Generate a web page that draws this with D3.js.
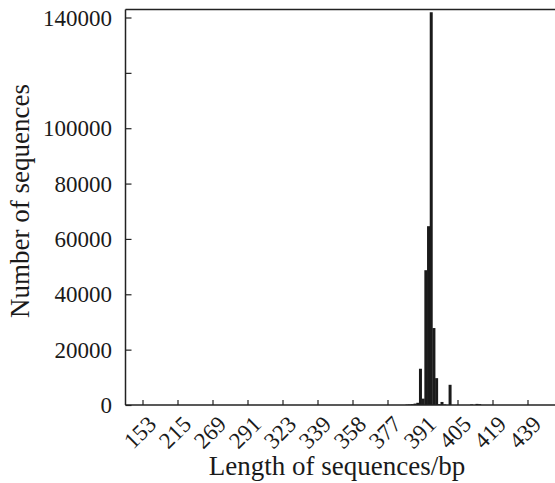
<!DOCTYPE html>
<html>
<head>
<meta charset="utf-8">
<script src="https://cdn.jsdelivr.net/npm/d3@7"></script>
<style>
  body { margin: 0; background: #fff; }
  text { font-family: "Liberation Serif", "DejaVu Serif", serif; fill: #1a1a1a; }
</style>
</head>
<body>
<div id="chart"></div>
<script>
const lengths = [
    101, 118, 126, 134, 141, 147,
    153, 157, 161, 166, 170, 176, 181, 187, 192, 198, 203, 207, 211,
    215, 219, 224, 228, 233, 237, 241, 246, 250, 254, 259, 262, 266,
    269, 271, 272, 274, 276, 277, 279, 281, 283, 284, 286, 288, 289,
    291, 293, 296, 298, 301, 303, 306, 308, 311, 313, 316, 318, 321,
    323, 324, 325, 326, 327, 329, 330, 331, 332, 334, 335, 336, 337,
    339, 340, 341, 343, 344, 345, 346, 348, 349, 351, 353, 355, 356,
    358, 359, 360, 361, 363, 364, 366, 367, 368, 370, 372, 374, 375,
    377, 378, 379, 380, 381, 382, 383, 384, 385, 386, 387, 389, 390,
    391, 392, 393, 394, 395, 396, 397, 398, 399, 400, 401, 402, 404,
    405, 406, 407, 408, 409, 410, 411, 412, 413, 414, 415, 416, 418,
    419, 420, 421, 422, 424, 425, 427, 428, 430, 431, 433, 435, 437,
    439, 441, 443, 446, 448, 451, 455, 460, 468, 475, 490
];

// lengths with a visible count, and their counts
const countLengths = [384, 385, 386, 387, 389, 390, 391, 392, 393, 394, 395, 396, 397, 398, 399, 401, 410, 412, 413];
const countValues  = [150, 200, 300, 500, 800, 13100, 2300, 48700, 64600, 141900, 27800, 9700, 300, 1100, 200, 7300, 200, 400, 300];

const xTickLabels = [153, 215, 269, 291, 323, 339, 358, 377, 391, 405, 419, 439];
const yTicks = [0, 20000, 40000, 60000, 80000, 100000, 120000, 140000];
const yTickLabels = ["0", "20000", "40000", "60000", "80000", "100000", "", "140000"];

const width = 555, height = 483;
const margin = { top: 9.5, left: 125.5, bottom: 405 };

const countOf = new Map(countLengths.map((l, i) => [l, countValues[i]]));
const data = lengths.map(l => ({ len: l, n: countOf.get(l) || 0 }));

const svg = d3.select("#chart").append("svg")
    .attr("width", width)
    .attr("height", height);

const bandW = 35 / 13;
const x = d3.scaleBand()
    .domain(lengths)
    .range([margin.left, margin.left + lengths.length * bandW])
    .padding(0);

const y = d3.scaleLinear()
    .domain([0, 140000])
    .range([margin.bottom, 17.5]);

// bars
svg.append("g").selectAll("rect")
    .data(data.filter(d => d.n > 0))
    .enter().append("rect")
    .attr("x", d => x(d.len))
    .attr("width", x.bandwidth() + 0.3)
    .attr("y", d => y(d.n))
    .attr("height", d => y(0) - y(d.n))
    .style("fill", "#1a1a1a");

// frame: top line
svg.append("line")
    .attr("x1", margin.left).attr("x2", width)
    .attr("y1", margin.top).attr("y2", margin.top)
    .style("stroke", "#222").style("stroke-width", 1.5);

// y axis, ticks inside
const yAxis = svg.append("g")
    .attr("transform", "translate(" + margin.left + ",0)")
    .call(d3.axisRight(y).tickValues(yTicks).tickSize(6).tickFormat(""));
yAxis.select(".domain").remove();
yAxis.selectAll("line").style("stroke", "#222").style("stroke-width", 1.2);
svg.append("line")
    .attr("x1", margin.left).attr("x2", margin.left)
    .attr("y1", margin.top).attr("y2", margin.bottom)
    .style("stroke", "#222").style("stroke-width", 1.5);

svg.append("g").selectAll("text")
    .data(yTicks)
    .enter().append("text")
    .attr("x", 112)
    .attr("y", d => y(d))
    .attr("dy", "0.35em")
    .attr("text-anchor", "end")
    .style("font-size", "23px")
    .text((d, i) => yTickLabels[i]);

// x axis, ticks inside
const xAxis = svg.append("g")
    .attr("transform", "translate(0," + margin.bottom + ")")
    .call(d3.axisTop(x).tickValues(xTickLabels).tickSize(5).tickFormat(""));
xAxis.select(".domain").remove();
xAxis.selectAll("line").style("stroke", "#222").style("stroke-width", 1.2);
svg.append("line")
    .attr("x1", margin.left).attr("x2", width)
    .attr("y1", margin.bottom).attr("y2", margin.bottom)
    .style("stroke", "#222").style("stroke-width", 1.5);

svg.append("g").selectAll("text")
    .data(xTickLabels)
    .enter().append("text")
    .attr("transform", d => "translate(" + (x(d) + x.bandwidth() / 2 + 9) + "," + (margin.bottom + 15) + ") rotate(-45)")
    .attr("text-anchor", "end")
    .attr("dy", "0.35em")
    .style("font-size", "23px")
    .text(d => d);

// axis titles
svg.append("text")
    .attr("x", 337)
    .attr("y", 475)
    .attr("text-anchor", "middle")
    .style("font-size", "27px")
    .text("Length of sequences/bp");

svg.append("text")
    .attr("transform", "translate(29,201) rotate(-90)")
    .attr("text-anchor", "middle")
    .style("font-size", "27px")
    .text("Number of sequences");
</script>
</body>
</html>
